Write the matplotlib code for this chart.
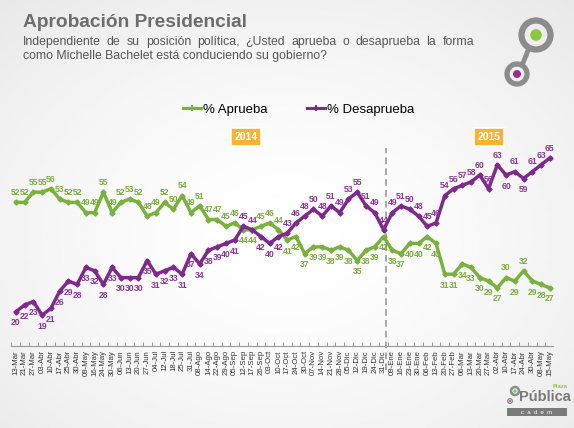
import matplotlib
matplotlib.use('Agg')
import matplotlib.pyplot as plt
import numpy as np
from matplotlib.patches import Circle, Rectangle
from matplotlib.lines import Line2D

plt.rcParams['font.family'] = ['Liberation Sans', 'DejaVu Sans']

fechas = ['13-Mar', '21-Mar', '27-Mar', '03-Abr', '10-Abr', '17-Abr', '25-Abr', '30-Abr',
          '09-May', '16-May', '24-May', '30-May', '06-Jun', '13-Jun', '20-Jun', '27-Jun',
          '04-Jul', '12-Jul', '18-Jul', '25-Jul', '31-Jul', '08-Ago', '14-Ago', '22-Ago',
          '29-Ago', '05-Sep', '12-Sep', '17-Sep', '26-Sep', '03-Oct', '10-Oct', '17-Oct',
          '24-Oct', '30-Oct', '07-Nov', '14-Nov', '21-Nov', '28-Nov', '05-Dic', '12-Dic',
          '19-Dic', '24-Dic', '31-Dic', '09-Ene', '16-Ene', '23-Ene', '30-Ene', '06-Feb',
          '13-Feb', '20-Feb', '27-Feb', '06-Mar', '13-Mar', '20-Mar', '27-Mar', '02-Abr',
          '10-Abr', '17-Abr', '24-Abr', '30-Abr', '08-May', '15-May']

aprueba = [52, 52, 55, 55, 56, 53, 52, 52, 49, 49, 55, 49, 52, 53, 52, 48, 49, 52, 50, 54,
           49, 51, 47, 47, 45, 46, 44, 44, 45, 46, 44, 41, 42, 37, 39, 39, 38, 39, 38, 35,
           38, 39, 42, 38, 37, 40, 40, 42, 40, 31, 31, 34, 33, 30, 29, 27, 30, 29, 32, 29,
           28, 27]

desaprueba = [20, 22, 23, 19, 21, 26, 29, 28, 33, 32, 28, 33, 30, 30, 30, 35, 31, 32, 33, 31,
              37, 34, 38, 39, 40, 41, 45, 44, 42, 40, 42, 43, 46, 48, 50, 48, 51, 49, 53, 55,
              51, 49, 44, 49, 51, 50, 48, 45, 46, 54, 56, 57, 58, 60, 56, 63, 60, 61, 59, 61,
              63, 65]

verde = '#7ab03f'
morado = '#7d2a8b'
verde_txt = '#79ad3c'
morado_txt = '#8a3596'

fig = plt.figure(figsize=(5.74, 4.28), dpi=100)

# background gradient
bg = fig.add_axes([0, 0, 1, 1], zorder=-10)
yy, xx = np.mgrid[0:1:200j, 0:1:200j]
r = np.sqrt(((xx - 0.5) / 0.75) ** 2 + ((yy - 0.55) / 0.75) ** 2)
bg.imshow(1 - 0.09 * np.clip(r, 0, 1) ** 1.5, cmap='gray', vmin=0, vmax=1,
          extent=[0, 1, 0, 1], aspect='auto')
bg.axis('off')

ax = fig.add_axes([0.020, 0.1916, 0.944, 0.4696])
ax.patch.set_alpha(0)
x = np.arange(len(fechas))

ax.plot(x, aprueba, color=verde, lw=2.5, marker='D', ms=2.6, zorder=3)
ax.plot(x, desaprueba, color=morado, lw=2.5, marker='D', ms=2.6, zorder=3)

# labels: upper series above, lower series below
flip = {('d', 56), ('d', 58), ('a', 56), ('a', 58)}
for i in x:
    a, d = aprueba[i], desaprueba[i]
    a_up = a > d
    for key, v, col, up in (('a', a, verde_txt, a_up), ('d', d, morado_txt, not a_up)):
        if (key, i) in flip:
            up = not up
        ax.annotate(str(v), (i, v), xytext=(0, 7 if up else -8), textcoords='offset points',
                    ha='center', va='center', fontsize=6.2, fontweight='bold', color=col,
                    zorder=4)

ax.set_xlim(-0.4, 61.4)
ax.set_ylim(10, 68.8)
ax.set_xticks(x - 0.5, minor=False)
ax.set_xticklabels([])
ax.set_xticks(x, labels=fechas, minor=True)
ax.tick_params(axis='x', which='major', direction='in', length=3, color='#999999', width=0.7)
ax.tick_params(axis='x', which='minor', length=0, labelsize=5.6, labelrotation=90,
               labelcolor='#333333', pad=3)
ax.set_yticks([])
for s in ['top', 'right', 'left']:
    ax.spines[s].set_visible(False)
ax.spines['bottom'].set_color('#999999')
ax.spines['bottom'].set_linewidth(0.8)

ax.axvline(42.25, ymin=-0.12, ymax=0.985, clip_on=False, color='#999999', lw=1.2,
           ls=(0, (4, 2.5)), zorder=2)

# title
x0 = 23
fig.text(x0 / 574, 0.948, 'Aprobación Presidencial', fontsize=13.8, fontweight='bold',
         color='#6d6d6d', va='center')

# subtitle, first line justified between x0 and x=474 px
renderer = fig.canvas.get_renderer()
linea1 = 'Independiente de su posición política, ¿Usted aprueba o desaprueba la forma'
palabras = linea1.split(' ')
objs = [fig.text(0, 0.903, w, fontsize=8.8, color='#555555', va='center') for w in palabras]
anchos = [t.get_window_extent(renderer).width for t in objs]
hueco = (474 - x0 - sum(anchos)) / (len(palabras) - 1)
pos = float(x0)
for t, w in zip(objs, anchos):
    t.set_x(pos / 574)
    pos += w + hueco
fig.text(x0 / 574, 0.869, 'como Michelle Bachelet está conduciendo su gobierno?',
         fontsize=8.8, color='#555555', va='center')

# legend
h1 = Line2D([], [], color=verde, lw=2.2, marker='+', ms=4, mew=1.5)
h2 = Line2D([], [], color=morado, lw=2.2, marker='+', ms=4, mew=1.5)
fig.legend([h1, h2], ['% Aprueba', '% Desaprueba'], loc='center', ncol=2,
           bbox_to_anchor=(0.52, 0.743), frameon=False, fontsize=9.5, handlelength=1.4,
           handletextpad=0.1, columnspacing=3.0)

# year boxes
for xc, label in ((0.429, '2014'), (0.852, '2015')):
    fig.text(xc, 0.68, label, fontsize=7.5, fontweight='bold', color='white',
             ha='center', va='center',
             bbox=dict(boxstyle='square,pad=0.35', fc='#f8b234', ec='white', lw=1.2))

# top-right logo
lg = fig.add_axes([0, 0, 1, 1], zorder=5)
lg.set_xlim(0, 574)
lg.set_ylim(428, 0)
lg.axis('off')
lg.plot([529, 523], [48, 63], color='#8c8c8c', lw=3.5)
lg.add_patch(Circle((536, 35), 14.5, fc='none', ec='#8c8c8c', lw=4.5))
lg.add_patch(Circle((536, 35), 5.8, fc='#8dc63f', ec='none'))
lg.add_patch(Circle((517, 74), 10, fc='none', ec='#8c8c8c', lw=3.8))
lg.add_patch(Circle((517, 74), 4, fc='#9b2c8f', ec='none'))

# bottom-right logo
lg.add_patch(Circle((515, 391), 4, fc='none', ec='#8c8c8c', lw=1.8))
lg.add_patch(Circle((515, 391), 1.6, fc='#8dc63f', ec='none'))
lg.add_patch(Circle((510, 401), 2.3, fc='none', ec='#8c8c8c', lw=1.0))
lg.add_patch(Circle((510, 401), 0.9, fc='#9b2c8f', ec='none'))
lg.text(519, 397, 'Pública', fontsize=10.5, fontweight='bold', color='#7a7a7a',
        va='center', ha='left')
lg.text(560, 386, 'Plaza', fontsize=4.2, fontweight='bold', color='#8dc63f',
        va='center', ha='center')
lg.add_patch(Rectangle((507, 408), 60, 8, fc='#7a7a7a', ec='none'))
lg.text(537, 412, 'c  a  d  e  m', fontsize=4.3, color='white', ha='center', va='center')

fig.savefig('out.png', dpi=100)
